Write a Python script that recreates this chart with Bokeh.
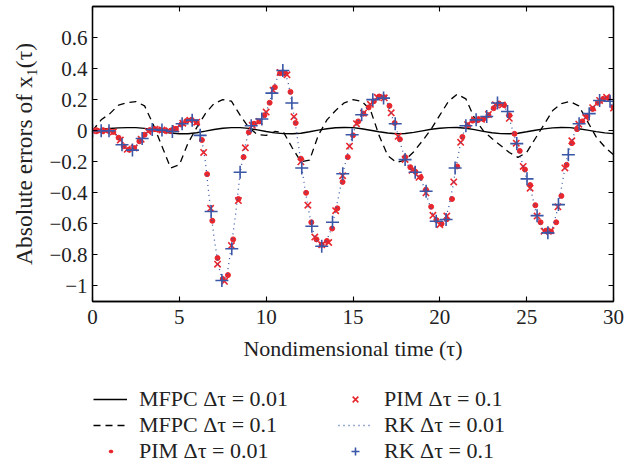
from bokeh.plotting import figure
from bokeh.layouts import column
from bokeh.models import (Range1d, FixedTicker, LinearAxis, CustomJSTickFormatter,
                          Legend, LegendItem)
from bokeh.embed import file_html
from bokeh.resources import INLINE

FONT = "Liberation Serif"
RED = "#e8262d"
BLUE = "#3a57a7"

x_ticks = [0, 5, 10, 15, 20, 25, 30]
y_ticks = [-1, -0.8, -0.6, -0.4, -0.2, 0, 0.2, 0.4, 0.6]

# ---- MFPC, dtau = 0.01 (solid) and dtau = 0.1 (dashed), read every 0.5 ----
mfpc_t = [0, 0.5, 1, 1.5, 2, 2.5, 3, 3.5, 4, 4.5,
          5, 5.5, 6, 6.5, 7, 7.5, 8, 8.5, 9, 9.5,
          10, 10.5, 11, 11.5, 12, 12.5, 13, 13.5, 14, 14.5,
          15, 15.5, 16, 16.5, 17, 17.5, 18, 18.5, 19, 19.5,
          20, 20.5, 21, 21.5, 22, 22.5, 23, 23.5, 24, 24.5,
          25, 25.5, 26, 26.5, 27, 27.5, 28, 28.5, 29, 29.5, 30]
mfpc_fine = [0, 0.008, 0.014, 0.018, 0.02, 0.02, 0.015, 0.005, -0.006, -0.015,
             -0.02, -0.02, -0.013, -0.003, 0.008, 0.016, 0.02, 0.02, 0.015, 0.005,
             -0.005, -0.014, -0.019, -0.02, -0.016, -0.007, 0.004, 0.013, 0.019, 0.021,
             0.02, 0.013, 0.003, -0.007, -0.015, -0.02, -0.018, -0.011, -0.001, 0.009,
             0.016, 0.02, 0.021, 0.016, 0.007, -0.004, -0.013, -0.019, -0.02, -0.016,
             -0.007, 0.003, 0.012, 0.018, 0.021, 0.02, 0.013, 0.004, -0.006, -0.014, -0.019]
mfpc_coarse = [0, 0.07, 0.11, 0.165, 0.18, 0.188, 0.16, 0.04, -0.1, -0.24,
               -0.22, -0.08, 0.02, 0.11, 0.175, 0.2, 0.19, 0.1, 0.02, -0.025,
               -0.03, -0.005, -0.01, -0.11, -0.2, -0.19, -0.03, 0.07, 0.13, 0.18,
               0.2, 0.19, 0.135, -0.03, -0.16, -0.205, -0.19, -0.135, -0.065, 0.01,
               0.1, 0.19, 0.235, 0.205, 0.08, 0.0, -0.05, -0.095, -0.14, -0.172,
               -0.14, -0.05, 0.04, 0.13, 0.175, 0.188, 0.16, 0.06, -0.04, -0.105, -0.155]

# ---- RK, dtau = 0.01 (dotted line), read every 0.25 ----
rk_fine_t = [0, 0.25, 0.5, 0.75, 1, 1.25, 1.5, 1.75,
             2, 2.25, 2.5, 2.75, 3, 3.25, 3.5, 3.75,
             4, 4.25, 4.5, 4.75, 5, 5.25, 5.5, 5.75,
             6, 6.25, 6.5, 6.75, 7, 7.25, 7.5, 7.75,
             8, 8.25, 8.5, 8.75, 9, 9.25, 9.5, 9.75,
             10, 10.25, 10.5, 10.75, 11, 11.25, 11.5, 11.75,
             12, 12.25, 12.5, 12.75, 13, 13.25, 13.5, 13.75,
             14, 14.25, 14.5, 14.75, 15, 15.25, 15.5, 15.75,
             16, 16.25, 16.5, 16.75, 17, 17.25, 17.5, 17.75,
             18, 18.25, 18.5, 18.75, 19, 19.25, 19.5, 19.75,
             20, 20.25, 20.5, 20.75, 21, 21.25, 21.5, 21.75,
             22, 22.25, 22.5, 22.75, 23, 23.25, 23.5, 23.75,
             24, 24.25, 24.5, 24.75, 25, 25.25, 25.5, 25.75,
             26, 26.25, 26.5, 26.75, 27, 27.25, 27.5, 27.75,
             28, 28.25, 28.5, 28.75, 29, 29.25, 29.5, 29.75, 30]
rk_fine = [0, 0, 0, 0, 0, -0.01, -0.045, -0.095,
           -0.12, -0.125, -0.1, -0.06, -0.026, 0.0, 0.01, 0.008,
           0.004, 0.0, 0.0, 0.008, 0.03, 0.052, 0.066, 0.07,
           0.055, -0.03, -0.2, -0.46, -0.69, -0.87, -0.965, -0.93,
           -0.74, -0.53, -0.27, -0.12, 0.0, 0.04, 0.055, 0.075,
           0.12, 0.205, 0.3, 0.37, 0.385, 0.32, 0.17, -0.01,
           -0.2, -0.385, -0.545, -0.665, -0.73, -0.745, -0.7, -0.635,
           -0.515, -0.38, -0.235, -0.12, -0.015, 0.055, 0.1, 0.14,
           0.17, 0.2, 0.225, 0.218, 0.178, 0.09, 0.01, -0.09,
           -0.185, -0.24, -0.265, -0.295, -0.336, -0.42, -0.51, -0.58,
           -0.605, -0.585, -0.5, -0.36, -0.19, -0.05, 0.028, 0.064,
           0.07, 0.07, 0.077, 0.1, 0.14, 0.175, 0.178, 0.15,
           0.08, -0.02, -0.115, -0.21, -0.31, -0.385, -0.51, -0.595,
           -0.647, -0.658, -0.62, -0.52, -0.37, -0.21, -0.107, -0.015,
           0.042, 0.07, 0.1, 0.14, 0.17, 0.2, 0.215, 0.2, 0.146]

# ---- RK, dtau = 0.1 (plus markers) ----
rk_coarse_t = [0, 0.5, 0.95, 1.7, 2.3, 2.86, 3.44, 4.0, 4.6, 5.16,
               5.74, 6.2, 6.83, 7.45, 8.02, 8.5, 9.14, 9.75, 10.33, 10.96,
               11.48, 12.05, 12.63, 13.2, 13.82, 14.41, 14.95, 15.5, 16.14, 16.76,
               17.43, 18.0, 18.58, 19.21, 19.79, 20.36, 20.88, 21.5, 22.09, 22.7,
               23.32, 23.9, 24.43, 25.02, 25.6, 26.22, 26.83, 27.4, 28.02, 28.6,
               29.2, 29.8]
rk_coarse = [0, 0, 0, -0.09, -0.125, -0.05, 0.008, 0.004, -0.005, 0.045,
             0.068, -0.03, -0.52, -0.965, -0.76, -0.268, 0.032, 0.075, 0.242, 0.388,
             0.178, -0.24, -0.615, -0.744, -0.59, -0.277, -0.026, 0.103, 0.2, 0.21,
             0.045, -0.186, -0.268, -0.39, -0.583, -0.572, -0.24, 0.032, 0.07, 0.092,
             0.178, 0.124, -0.083, -0.31, -0.547, -0.658, -0.476, -0.155, 0.045, 0.11,
             0.195, 0.19]

# ---- PIM, dtau = 0.01 (red dots), read every 0.3 ----
pim_fine_t = [0, 0.3, 0.6, 0.9, 1.2, 1.5, 1.8, 2.1, 2.4, 2.7,
              3, 3.3, 3.6, 3.9, 4.2, 4.5, 4.8, 5.1, 5.4, 5.7,
              6, 6.3, 6.6, 6.9, 7.2, 7.5, 7.8, 8.1, 8.4, 8.7,
              9, 9.3, 9.6, 9.9, 10.2, 10.5, 10.8, 11.1, 11.4, 11.7,
              12, 12.3, 12.6, 12.9, 13.2, 13.5, 13.8, 14.1, 14.4, 14.7,
              15, 15.3, 15.6, 15.9, 16.2, 16.5, 16.8, 17.1, 17.4, 17.7,
              18, 18.3, 18.6, 18.9, 19.2, 19.5, 19.8, 20.1, 20.4, 20.7,
              21, 21.3, 21.6, 21.9, 22.2, 22.5, 22.8, 23.1, 23.4, 23.7,
              24, 24.3, 24.6, 24.9, 25.2, 25.5, 25.8, 26.1, 26.4, 26.7,
              27, 27.3, 27.6, 27.9, 28.2, 28.5, 28.8, 29.1, 29.4, 29.7, 30]
pim_fine = [0, 0, 0, 0, -0.008, -0.045, -0.1, -0.122, -0.112, -0.068,
            -0.026, 0.004, 0.01, 0.005, 0.0, 0.0, 0.012, 0.04, 0.062, 0.07,
            0.055, -0.06, -0.28, -0.58, -0.82, -0.955, -0.93, -0.7, -0.44, -0.17,
            -0.01, 0.045, 0.06, 0.1, 0.18, 0.28, 0.37, 0.37, 0.25, 0.05,
            -0.18, -0.4, -0.59, -0.7, -0.735, -0.71, -0.63, -0.5, -0.33, -0.17,
            -0.03, 0.06, 0.11, 0.15, 0.19, 0.22, 0.215, 0.16, 0.05, -0.055,
            -0.17, -0.235, -0.265, -0.3, -0.38, -0.49, -0.575, -0.6, -0.57, -0.44,
            -0.23, -0.04, 0.035, 0.065, 0.07, 0.075, 0.1, 0.145, 0.175, 0.165,
            0.1, -0.02, -0.13, -0.25, -0.35, -0.48, -0.59, -0.645, -0.65, -0.59,
            -0.42, -0.22, -0.08, 0.01, 0.06, 0.095, 0.14, 0.18, 0.205, 0.21, 0.15]

# ---- PIM, dtau = 0.1 (red crosses), read every 0.4 ----
pim_coarse_t = [0, 0.4, 0.8, 1.2, 1.6, 2.0, 2.4, 2.8, 3.2, 3.6,
                4.0, 4.4, 4.8, 5.2, 5.6, 6.0, 6.4, 6.8, 7.2, 7.6,
                8.0, 8.4, 8.8, 9.2, 9.6, 10.0, 10.4, 10.8, 11.2, 11.6,
                12.0, 12.4, 12.8, 13.2, 13.6, 14.0, 14.4, 14.8, 15.2, 15.6,
                16.0, 16.4, 16.8, 17.2, 17.6, 18.0, 18.4, 18.8, 19.2, 19.6,
                20.0, 20.4, 20.8, 21.2, 21.6, 22.0, 22.4, 22.8, 23.2, 23.6,
                24.0, 24.4, 24.8, 25.2, 25.6, 26.0, 26.4, 26.8, 27.2, 27.6,
                28.0, 28.4, 28.8, 29.2, 29.6, 30.0]
pim_coarse = [0, 0, 0, -0.008, -0.06, -0.12, -0.112, -0.055, -0.005, 0.01,
              0.004, 0.0, 0.012, 0.048, 0.068, 0.055, -0.14, -0.5, -0.86, -0.97,
              -0.74, -0.45, -0.11, 0.035, 0.06, 0.12, 0.26, 0.375, 0.36, 0.09,
              -0.2, -0.48, -0.685, -0.735, -0.72, -0.515, -0.29, -0.1, 0.045, 0.113,
              0.17, 0.215, 0.212, 0.115, -0.036, -0.185, -0.255, -0.3, -0.4, -0.545,
              -0.605, -0.55, -0.33, -0.075, 0.04, 0.07, 0.073, 0.105, 0.168, 0.165,
              0.08, -0.08, -0.23, -0.37, -0.55, -0.647, -0.643, -0.49, -0.24, -0.065,
              0.042, 0.085, 0.148, 0.195, 0.215, 0.146]

legend_labels = ["MFPC Δτ = 0.01", "MFPC Δτ = 0.1", "PIM Δτ = 0.01",
                 "PIM Δτ = 0.1", "RK Δτ = 0.01", "RK Δτ = 0.1"]


def add_series(fig, small_dot_key=False):
    r1 = fig.line(mfpc_t, mfpc_fine, line_color="black", line_width=1.4)
    r2 = fig.line(mfpc_t, mfpc_coarse, line_color="black", line_width=1.3, line_dash="7 5")
    if small_dot_key:
        # key for the red-dot series: a single round dot in the middle of the key box
        r3 = fig.line(pim_fine_t, pim_fine, line_color=RED, line_width=3.5,
                      line_cap="round", line_dash="1 62", line_dash_offset=46)
    else:
        r3 = fig.scatter(pim_fine_t, pim_fine, marker="circle", size=5,
                         fill_color=RED, line_color=RED)
    r4 = fig.scatter(pim_coarse_t, pim_coarse, marker="x", size=9,
                     line_color=RED, line_width=1.6)
    r5 = fig.line(rk_fine_t, rk_fine, line_color=BLUE, line_width=1.3, line_dash="1 4")
    r6 = fig.scatter(rk_coarse_t, rk_coarse, marker="cross", size=13,
                     line_color=BLUE, line_width=1.6)
    return [r1, r2, r3, r4, r5, r6]


MAIN_H = 368
p = figure(width=639, height=MAIN_H, x_range=Range1d(0, 30), y_range=Range1d(-1.1, 0.8),
           output_backend="svg", toolbar_location=None,
           min_border_left=92, min_border_right=26, min_border_top=6, min_border_bottom=67,
           x_axis_label="Nondimensional time (τ)", y_axis_label="Absolute errors of x₁(τ)")
p.background_fill_color = "white"
p.border_fill_color = "white"
p.xgrid.visible = False
p.ygrid.visible = False
p.outline_line_color = "black"
p.outline_line_width = 1.3
p.outline_line_alpha = 1.0

minus_fmt = CustomJSTickFormatter(code="""
const a = Math.abs(tick);
const s = String(Math.round(a * 10) / 10);
return (tick < -1e-9 ? "\u2212" : "") + s;
""")

for ax in (p.xaxis[0], p.yaxis[0]):
    ax.major_tick_in = 5
    ax.major_tick_out = 0
    ax.minor_tick_line_color = None
    ax.axis_line_color = "black"
    ax.axis_line_width = 1.3
    ax.major_tick_line_width = 1.1
    ax.major_label_text_font = FONT
    ax.major_label_text_font_size = "21px"
    ax.major_label_text_color = "#222222"
    ax.axis_label_text_font = FONT
    ax.axis_label_text_font_size = "22px"
    ax.axis_label_text_font_style = "normal"
    ax.axis_label_text_color = "#222222"

p.yaxis[0].axis_label_text_font_size = "23.5px"
p.xaxis[0].ticker = FixedTicker(ticks=x_ticks)
p.yaxis[0].ticker = FixedTicker(ticks=y_ticks)
p.yaxis[0].formatter = minus_fmt
p.xaxis[0].major_label_standoff = 8
p.xaxis[0].axis_label_standoff = 9
p.yaxis[0].major_label_standoff = 5
p.yaxis[0].axis_label_standoff = 9

blank = CustomJSTickFormatter(code="return '';")
top = LinearAxis(ticker=FixedTicker(ticks=x_ticks), formatter=blank,
                 major_tick_in=5, major_tick_out=0, minor_tick_line_color=None,
                 axis_line_color="black", axis_line_width=1.3, major_tick_line_width=1.1,
                 major_label_text_font_size="0px", major_label_standoff=0)
right = LinearAxis(ticker=FixedTicker(ticks=y_ticks), formatter=blank,
                   major_tick_in=5, major_tick_out=0, minor_tick_line_color=None,
                   axis_line_color="black", axis_line_width=1.3, major_tick_line_width=1.1,
                   major_label_text_font_size="0px", major_label_standoff=0)
p.add_layout(top, "above")
p.add_layout(right, "right")

add_series(p)

# ---- legend strip below the axes (series drawn off-range, only their keys show) ----
LEG_H = 464 - MAIN_H
q = figure(width=639, height=LEG_H, x_range=Range1d(-3, -2), y_range=Range1d(5, 6),
           x_axis_type=None, y_axis_type=None, output_backend="svg", toolbar_location=None,
           min_border=0, min_border_left=0, min_border_right=0,
           min_border_top=0, min_border_bottom=0)
q.outline_line_color = None
q.xgrid.visible = False
q.ygrid.visible = False
q.background_fill_color = "white"
q.border_fill_color = "white"
keys = add_series(q, small_dot_key=True)

legend = Legend(items=[LegendItem(label=lab, renderers=[r]) for lab, r in zip(legend_labels, keys)],
                location=(1, 0), orientation="vertical", ncols=2)
legend.label_text_font = FONT
legend.label_text_font_size = "22px"
legend.label_text_color = "#222222"
legend.glyph_width = 34
legend.glyph_height = 20
legend.label_standoff = 12
legend.label_width = 199
legend.spacing = 0
legend.padding = 0
legend.margin = 0
legend.border_line_color = None
legend.background_fill_alpha = 0
q.add_layout(legend, "center")

layout = column(p, q, spacing=0)
open("out.html", "w").write(file_html(layout, INLINE))
